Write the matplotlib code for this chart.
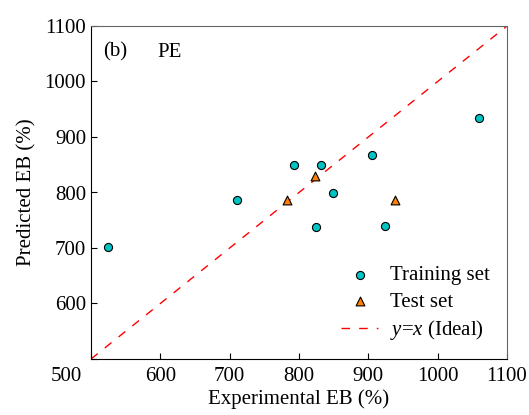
import matplotlib.pyplot as plt
from matplotlib.transforms import ScaledTranslation

plt.rcParams['font.family'] = ['Liberation Serif', 'DejaVu Serif']
plt.rcParams['mathtext.fontset'] = 'custom'
plt.rcParams['mathtext.it'] = 'Liberation Serif:italic'
plt.rcParams['mathtext.rm'] = 'Liberation Serif'

train_exp = [524, 710, 793, 832, 849, 824, 906, 924, 1060]
train_pred = [702, 787, 850, 850, 799, 737, 867, 739, 935]
test_exp = [783, 823, 939]
test_pred = [787, 829, 787]
ticks = [500, 600, 700, 800, 900, 1000, 1100]

fig = plt.figure(figsize=(5.29, 4.15), dpi=100)
ax = fig.add_axes([91 / 529, 1 - 359 / 415, 416 / 529, 333 / 415])

ax.plot([500, 1100], [500, 1100], color='red', ls=(0, (6.2, 6.5)), lw=1.0,
        label='$y$=$x$ (Ideal)', zorder=1)
ax.scatter(train_exp, train_pred, s=34, color='#00C4C4', edgecolor='black',
           linewidth=0.8, label='Training set', zorder=3)
ax.scatter(test_exp, test_pred, s=40, marker='^', color='#FF8000', edgecolor='black',
           linewidth=0.8, label='Test set', zorder=3)

ax.set_xlim(500, 1100)
ax.set_ylim(500, 1100)
ax.set_xticks(ticks)
ax.set_yticks(ticks)
ax.set_yticklabels([''] + [str(t) for t in ticks[1:]])
ax.tick_params(direction='in', labelsize=15, length=4.5)
ax.tick_params(axis='x', pad=6)
for s in ('top', 'right'):
    ax.spines[s].set_color('#666666')
# corner "500" label sits left of the axis corner
lab = ax.get_xticklabels()[0]
lab.set_transform(lab.get_transform() + ScaledTranslation(-25 / 100, 0, fig.dpi_scale_trans))

ax.set_xlabel('Experimental EB (%)', fontsize=15, labelpad=2)
ax.set_ylabel('Predicted EB (%)', fontsize=15, labelpad=6)

ax.text(0.03, 0.95, '(b)', transform=ax.transAxes, fontsize=15, va='top')
ax.text(0.16, 0.95, 'PE', transform=ax.transAxes, fontsize=15, va='top')

h, l = ax.get_legend_handles_labels()
ax.legend([h[1], h[2], h[0]], [l[1], l[2], l[0]], loc='lower right', frameon=False,
          fontsize=15, markerscale=1.0, handlelength=1.75, labelspacing=0.32,
          borderaxespad=0.4, handletextpad=0.6)

fig.savefig('out.png', dpi=100)
